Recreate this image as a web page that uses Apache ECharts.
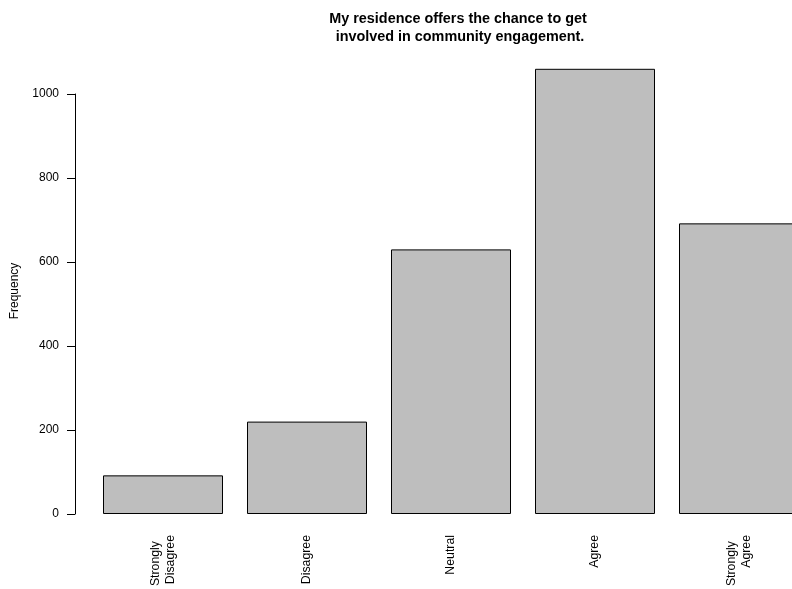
<!DOCTYPE html>
<html>
<head>
<meta charset="utf-8">
<script src="https://cdn.jsdelivr.net/npm/echarts@6/dist/echarts.min.js"></script>
<style>
html,body{margin:0;padding:0;background:#fff;}
#chart{width:792px;height:589px;}
</style>
</head>
<body>
<div id="chart"></div>
<script>
var titleText = 'My residence offers the chance to get\n involved in community engagement.';
var yAxisName = 'Frequency';
var categories = ['Strongly\nDisagree', 'Disagree', 'Neutral', 'Agree', 'Strongly\nAgree'];
var frequencies = [92, 220, 630, 1060, 692];
var yTicks = [0, 200, 400, 600, 800, 1000];

var FONT = '"Liberation Sans", Arial, Helvetica, sans-serif';
var chart = echarts.init(document.getElementById('chart'), null, {renderer: 'canvas'});
chart.setOption({
  animation: false,
  backgroundColor: '#ffffff',
  title: {
    text: titleText,
    left: 453,
    top: 5,
    textAlign: 'center',
    textStyle: {fontFamily: FONT, fontSize: 14.4, fontWeight: 'bold', color: '#000', lineHeight: 18}
  },
  graphic: [{
    type: 'text',
    x: 15, y: 291,
    rotation: Math.PI / 2,
    style: {text: yAxisName, fontFamily: FONT, fontSize: 12, fill: '#000', align: 'center', verticalAlign: 'middle'}
  }],
  grid: {left: 91, width: 720, top: 94, height: 420, outerBoundsMode: 'none', containLabel: false},
  xAxis: {
    type: 'category',
    data: categories,
    axisLine: {show: false},
    axisTick: {show: false},
    axisLabel: {
      interval: 0,
      rotate: 90,
      margin: 21,
      fontFamily: FONT,
      fontSize: 12.3,
      color: '#000',
      lineHeight: 14.5,
      formatter: function (v) {
        var parts = v.split('\n');
        if (parts.length > 1) {
          return '{s|' + parts[0] + '}\n' + parts.slice(1).join('\n');
        }
        return v;
      },
      rich: {
        s: {fontFamily: FONT, fontSize: 12.3, color: '#000', padding: [0, 6, 0, 0], lineHeight: 14.5}
      }
    }
  },
  yAxis: {
    type: 'value',
    min: yTicks[0],
    max: yTicks[yTicks.length - 1],
    interval: yTicks[1] - yTicks[0],
    offset: 16,
    axisLine: {show: true, lineStyle: {color: '#000', width: 1}},
    axisTick: {show: true, length: 8, lineStyle: {color: '#000', width: 1}},
    axisLabel: {margin: 16, fontFamily: FONT, fontSize: 12, color: '#000', formatter: function (v) { return String(v); }},
    splitLine: {show: false}
  },
  series: [{
    type: 'bar',
    data: frequencies,
    barWidth: 120,
    clip: false,
    itemStyle: {color: '#bebebe', borderColor: '#000', borderWidth: 1}
  }]
});
</script>
</body>
</html>
